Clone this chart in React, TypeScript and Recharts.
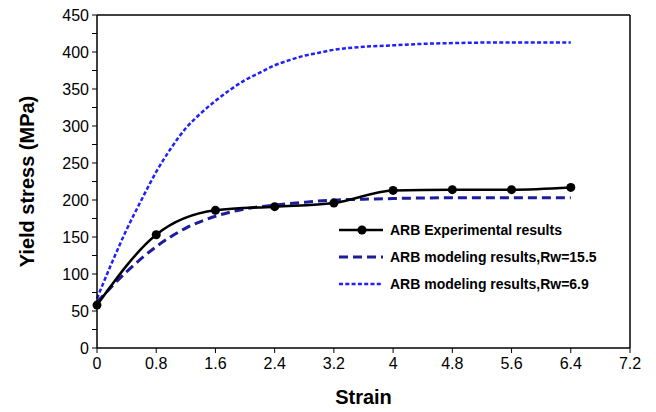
import React from 'react';
import { LineChart, Line, XAxis, YAxis, ReferenceLine, Label } from 'recharts';

const strainExp = [0, 0.8, 1.6, 2.4, 3.2, 4, 4.8, 5.6, 6.4];
const stressExp = [58, 153, 186, 191, 196, 213, 214, 214, 217];

const strainRw155 = [0, 0.4, 0.8, 1.2, 1.6, 2.0, 2.4, 2.8, 3.2, 3.6, 4.0, 4.8, 5.6, 6.4];
const stressRw155 = [62, 103, 137, 162, 178, 188, 193, 197, 200, 201, 202, 203, 203, 203];

const strainRw69 = [0, 0.2, 0.4, 0.6, 0.8, 1.0, 1.2, 1.4, 1.6, 1.8, 2.0, 2.2, 2.4, 2.6, 2.8, 3.0, 3.2, 3.6, 4.0, 4.4, 4.8, 5.6, 6.4];
const stressRw69 = [67, 115, 160, 200, 238, 270, 297, 317, 334, 349, 362, 372, 382, 389, 395, 399, 403, 407, 409, 411, 412, 413, 413];

const xTicks = [0, 0.8, 1.6, 2.4, 3.2, 4, 4.8, 5.6, 6.4, 7.2];
const xTickLabels = ['0', '0.8', '1.6', '2.4', '3.2', '4', '4.8', '5.6', '6.4', '7.2'];
const yTicks = [0, 25, 50, 75, 100, 125, 150, 175, 200, 225, 250, 275, 300, 325, 350, 375, 400, 425, 450];
const yTickLabels = ['0', '', '50', '', '100', '', '150', '', '200', '', '250', '', '300', '', '350', '', '400', '', '450'];

const seriesNames = ['ARB Experimental results', 'ARB modeling results,Rw=15.5', 'ARB modeling results,Rw=6.9'];
const xTitle = 'Strain';
const yTitle = 'Yield stress (MPa)';

const zip = (xs: number[], ys: number[]) => xs.map((x, i) => ({ x, y: ys[i] }));
const dataExp = zip(strainExp, stressExp);
const dataRw155 = zip(strainRw155, stressRw155);
const dataRw69 = zip(strainRw69, stressRw69);

const FONT = '"Liberation Sans", Arial, sans-serif';

const styles = [
  { color: '#000000', dash: undefined as string | undefined, width: 2.5, dot: true },
  { color: '#1c1c9c', dash: '9 5', width: 3, dot: false },
  { color: '#1f1fff', dash: '4 2.3', width: 2.5, dot: false },
];

const LegendBox = () => (
  <svg width={300} height={81} style={{ display: 'block' }}>
    {seriesNames.map((name, i) => {
      const cy = 13 + i * 27;
      const s = styles[i];
      return (
        <g key={name}>
          <line x1={0} x2={44} y1={cy} y2={cy} stroke={s.color} strokeWidth={s.width} strokeDasharray={s.dash} />
          {s.dot && <circle cx={23} cy={cy} r={4.5} fill="#000" />}
          <text x={51} y={cy} dy="0.35em" fontFamily={FONT} fontWeight="bold" fontSize={14} fill="#000">
            {name}
          </text>
        </g>
      );
    })}
  </svg>
);

export default function App() {
  return (
    <div style={{ position: 'absolute', left: 0, top: 0, width: 656, height: 412, background: '#fff' }}>
      <LineChart width={656} height={412} margin={{ top: 15, right: 26, bottom: 8, left: 8 }} style={{ fontFamily: FONT }}>
        <XAxis
          type="number"
          dataKey="x"
          domain={[0, 7.2]}
          ticks={xTicks}
          interval={0}
          tickFormatter={(v: number) => xTickLabels[xTicks.indexOf(v)] ?? ''}
          tickSize={5}
          height={56}
          axisLine={{ stroke: '#000', strokeWidth: 1.5 }}
          tickLine={{ stroke: '#000', strokeWidth: 1 }}
          tick={{ fill: '#000', fontSize: 16, fontFamily: FONT }}
          tickMargin={5}
        >
          <Label value={xTitle} position="insideBottom" offset={0} style={{ fontWeight: 'bold', fontSize: 20, fill: '#000', fontFamily: FONT }} />
        </XAxis>
        <YAxis
          type="number"
          domain={[0, 450]}
          ticks={yTicks}
          interval={0}
          tickFormatter={(v: number) => yTickLabels[yTicks.indexOf(v)] ?? ''}
          tickSize={5}
          width={89}
          axisLine={{ stroke: '#000', strokeWidth: 1.5 }}
          tickLine={{ stroke: '#000', strokeWidth: 1 }}
          tick={{ fill: '#000', fontSize: 16, fontFamily: FONT }}
          tickMargin={3}
        >
          <Label value={yTitle} angle={-90} position="insideLeft" offset={19} style={{ textAnchor: 'middle', fontWeight: 'bold', fontSize: 20, fill: '#000', fontFamily: FONT }} />
        </YAxis>
        <ReferenceLine y={450} stroke="#000" strokeWidth={1.5} />
        <ReferenceLine x={7.2} stroke="#000" strokeWidth={1.5} />
        <Line data={dataRw69} dataKey="y" name={seriesNames[2]} type="monotone" stroke={styles[2].color} strokeWidth={styles[2].width} strokeDasharray={styles[2].dash} dot={false} activeDot={false} isAnimationActive={false} />
        <Line data={dataRw155} dataKey="y" name={seriesNames[1]} type="monotone" stroke={styles[1].color} strokeWidth={styles[1].width} strokeDasharray={styles[1].dash} dot={false} activeDot={false} isAnimationActive={false} />
        <Line data={dataExp} dataKey="y" name={seriesNames[0]} type="monotone" stroke={styles[0].color} strokeWidth={styles[0].width} dot={{ r: 4.5, fill: '#000', stroke: '#000', strokeWidth: 0 }} activeDot={false} isAnimationActive={false} />
      </LineChart>
      <div style={{ position: 'absolute', left: 339, top: 217 }}>
        <LegendBox />
      </div>
    </div>
  );
}
